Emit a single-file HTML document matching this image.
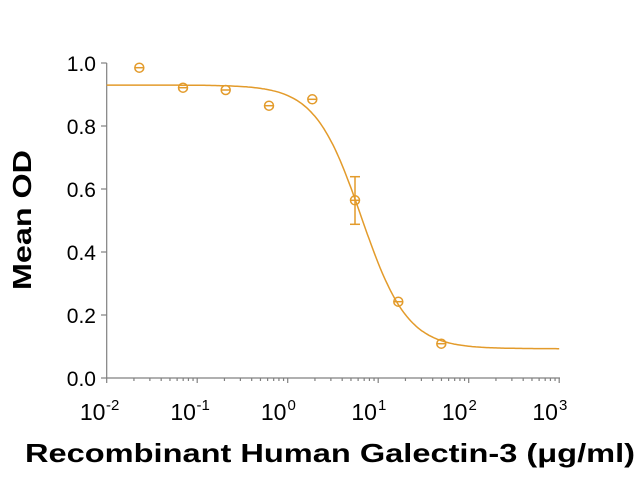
<!DOCTYPE html>
<html><head><meta charset="utf-8"><style>
body{margin:0;background:#fff;width:640px;height:482px;overflow:hidden;font-family:"Liberation Sans",sans-serif;}
</style></head><body>
<svg id="s" width="640" height="482" xmlns="http://www.w3.org/2000/svg" font-family="Liberation Sans, sans-serif">
<g stroke="#808080" stroke-width="1.2" fill="none" id="ax">
<line x1="106.7" y1="63" x2="106.7" y2="378"/>
<line x1="106.7" y1="378" x2="560" y2="378"/>
</g>
<g font-size="21" fill="#000" text-anchor="end">
<text x="96" y="71">1.0</text>
<text x="96" y="134">0.8</text>
<text x="96" y="197">0.6</text>
<text x="96" y="260">0.4</text>
<text x="96" y="323">0.2</text>
<text x="96" y="386">0.0</text>
</g>
<g font-size="23" fill="#000" text-anchor="middle" id="xl"></g>
<text transform="translate(31,220) rotate(-90)" text-anchor="middle" font-size="26" font-weight="bold" textLength="140" lengthAdjust="spacingAndGlyphs">Mean OD</text>
<text x="330" y="462" text-anchor="middle" font-size="26" font-weight="bold" textLength="610" lengthAdjust="spacingAndGlyphs">Recombinant Human Galectin-3 (μg/ml)</text>
<g id="d" stroke="#E39B2B" stroke-width="1.5" fill="none"></g>
</svg>
<script>
var ns="http://www.w3.org/2000/svg",ax=document.getElementById('ax'),dg=document.getElementById('d'),xl=document.getElementById('xl');
function X(l){return 106.7+(l+2)*90.5;}
function Y(v){return 378-v*315;}
function el(p,t,a){var e=document.createElementNS(ns,t);for(var k in a)e.setAttribute(k,a[k]);p.appendChild(e);return e;}
for(var v=0;v<=5;v++){el(ax,'line',{x1:101,x2:106.7,y1:378-v*63,y2:378-v*63});}
for(var dd=-2;dd<=3;dd++){var x=X(dd);el(ax,'line',{x1:x,x2:x,y1:378,y2:383});
 if(dd<3)for(var m=2;m<10;m++){var xm=X(dd+Math.log10(m));el(ax,'line',{x1:xm,x2:xm,y1:378,y2:381});}
 var t=el(xl,'text',{x:x-14,y:420});t.textContent='10';var s=el(xl,'text',{x:x+(dd<0?6:4),y:410,'font-size':15});s.textContent=String(dd);}
var tp=0.93,bt=0.093,ec=Math.log10(6.5),hh=1.7,p='';
for(var l=-2;l<=3.001;l+=0.02){var yy=bt+(tp-bt)/(1+Math.pow(10,hh*(l-ec)));p+=(p?'L':'M')+X(l).toFixed(1)+','+Y(yy).toFixed(1);}
el(dg,'path',{d:p});
var pts=[[139.3,67.7],[183,87.7],[225.7,90],[269,105.7],[312.3,99.3],[355,200.3],[398.3,301.7],[441.3,343.7]];
pts.forEach(function(q){el(dg,'circle',{cx:q[0],cy:q[1],r:4.5});el(dg,'line',{x1:q[0]-4,x2:q[0]+4,y1:q[1],y2:q[1]});});
el(dg,'line',{x1:355,x2:355,y1:176.7,y2:224.3});el(dg,'line',{x1:350,x2:360,y1:176.7,y2:176.7});el(dg,'line',{x1:350,x2:360,y1:224.3,y2:224.3});
</script>
</body></html>
